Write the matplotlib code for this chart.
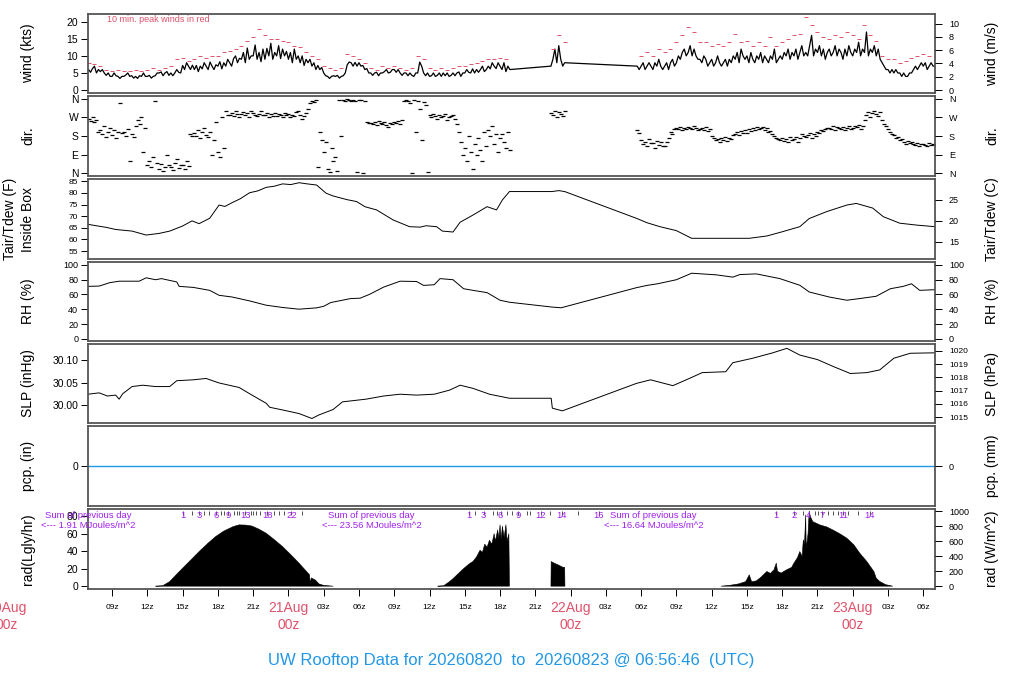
import numpy as np
import matplotlib
matplotlib.use("Agg")
import matplotlib.pyplot as plt
from matplotlib.transforms import blended_transform_factory as blend

plt.rcParams['font.family'] = ['Liberation Sans', 'DejaVu Sans']

# ---------------- data (time = hours since 20 Aug 00z) ----------------
STEP10 = 1.0 / 6.0           # 10-minute samples
# wind speed (kts), three observed stretches
wind_a_start = 7.0
wind_a = [
    6, 5.2, 6.3, 7, 5, 6,   5.4, 6, 5, 4.3, 5, 4,   4, 5, 4.2, 4, 3.4, 4,
    4, 4.4, 5, 4, 4.2, 3.5, 4, 3.4, 4.2, 4, 5, 4,   4, 4.3, 3.5, 4, 4.2, 5,
    5, 5.3, 4.2, 5, 5.4, 4.3, 5, 4.2, 5, 6, 5.2, 5,  7.2, 6, 8, 7, 6, 7.3,
    6, 7.2, 5.4, 7, 6.2, 8, 7, 6, 8.2, 7, 6, 7.4,   7, 8.3, 6.2, 8, 7, 9,
    8, 7, 9.2, 10, 8, 9.3,   9, 11, 8, 12.3, 9, 10,   10, 13.2, 9, 11, 8.3, 12,
    9, 12.2, 10, 13.7, 9, 11,   10, 13, 9.2, 12, 10, 11.3,   9, 11, 8, 12, 9, 10,
    8, 10, 7.2, 9, 8, 9,   7, 8, 6, 7.2, 6, 6.6,   5, 4.2, 4, 3.4, 4, 4.2,
    4, 4.3, 3.5, 4, 4.2, 5,   7.4, 8.2, 8, 7, 8.1, 7,   8, 7, 7.2, 6, 6.3, 5,
    5, 4.3, 5, 5.2, 4.2, 5,   5, 5.4, 6, 5, 5.2, 6,   6, 5.2, 6, 5, 4.3, 5,
    5, 4.2, 5, 4.3, 4, 5,   5, 8.2, 7, 5, 4.2, 5,   4, 4.2, 5, 4, 4.3, 5,
    4, 5, 4.2, 5, 4, 4.3,   5, 4.2, 5, 5.3, 4, 5,   5, 6, 5.2, 5, 6.2, 5,
    6, 5.2, 6, 7, 5.4, 6,   7, 6.2, 8, 7, 6.3, 8,   7, 6, 8, 5.4, 7, 6,
]
wind_b_start = 46.33
wind_b = [7, 9, 12, 8, 13, 9, 7, 8]
wind_c_start = 53.67
wind_c = [
    7, 6,
    7, 8, 6, 7, 8, 7,   6, 8, 7, 9, 7, 6,   7, 8, 6, 8, 9, 7,
    8, 10, 9, 11, 12, 10,   11, 13, 10, 12, 10, 9,   9, 8, 10, 9, 7, 8,
    9, 7, 8, 10, 8, 7,   8, 9, 7, 9, 8, 10,   9, 11, 8, 12, 10, 9,
    10, 8, 11, 9, 8, 10,   9, 11, 8, 10, 9, 8,   10, 9, 12, 8, 9, 10,
    9, 11, 10, 12, 9, 11,   10, 12, 9, 11, 13, 10,   11, 10, 13, 16, 10, 12,
    11, 13, 10, 12, 9, 11,   12, 10, 11, 13, 10, 12,   11, 9, 12, 10, 13, 11,
    10, 12, 11, 14, 10, 12,   11, 17, 10, 12, 11, 13,   10, 12, 9, 8, 7, 6,
    6, 5, 6, 5, 6, 5,   5, 4, 5, 4, 4, 5,   5, 6, 7, 6, 7, 8,
    7, 8, 6, 7, 8, 7,
    7,
]
# wind direction (deg), same 10-minute samples
dir_a = [
    265, 255, 270, 250, 260, 200,   210, 190, 230, 175, 200, 220,
    185, 210, 170, 200, 340, 195,   200, 180, 215, 60, 190, 175,
    230, 260, 240, 270, 100, 220,   40, 60, 30, 80, 350, 50,
    20, 45, 10, 30, 90, 40,   30, 15, 50, 70, 25, 40,
    40, 20, 60, 35, 190, 180,   195, 180, 210, 170, 200, 220,
    185, 175, 200, 90, 160, 250,   100, 80, 270, 120, 300, 280,
    280, 290, 275, 300, 285, 270,   285, 295, 280, 290, 270, 300,
    290, 280, 275, 285, 300, 280,   280, 290, 270, 285, 275, 290,
    275, 285, 280, 270, 290, 280,   285, 270, 280, 275, 295, 300,
    280, 265, 275, 290, 310, 340,   350, 345, 355, 30, 200, 160,
    100, 150, 20, 5, 120, 60,   80, 10, 355, 180, 355, 350,
    358, 355, 352, 356, 350, 5,   355, 357, 2, 350, 250, 245,
    245, 240, 250, 235, 255, 245,   240, 250, 235, 225, 245, 240,
    250, 245, 255, 240, 260, 350,   355, 350, 340, 2, 355, 200,
    350, 310, 160, 345, 330, 5,   280, 270, 285, 275, 265, 280,
    270, 275, 285, 260, 270, 275,   280, 265, 240, 200, 150, 90,
    120, 60, 180, 100, 20, 140,   90, 170, 110, 60, 200, 130,
    210, 180, 230, 140, 190, 100,   170, 190, 150, 120, 200, 110,
]
dir_b = [290, 280, 300, 270, 295, 285, 275, 300]
dir_c = [
    210, 195,
    160, 140, 150, 130, 165, 145,   145, 120, 155, 135, 150, 130,
    130, 150, 170, 200, 190, 215,   220, 215, 225, 210, 220, 215,
    225, 220, 215, 230, 220, 210,   215, 220, 210, 225, 205, 215,
    180, 170, 160, 165, 150, 170,   160, 175, 155, 170, 165, 185,
    190, 200, 185, 205, 195, 210,   195, 215, 205, 220, 210, 225,
    215, 220, 225, 210, 220, 200,   205, 190, 180, 170, 165, 160,
    170, 155, 165, 150, 175, 160,   165, 175, 150, 170, 190, 180,
    175, 185, 195, 170, 190, 180,   200, 195, 210, 205, 215, 220,
    220, 215, 230, 210, 225, 220,   215, 225, 210, 220, 230, 215,
    220, 230, 225, 235, 215, 230,   260, 280, 295, 270, 290, 300,
    285, 275, 295, 260, 240, 230,   215, 200, 190, 185, 170, 175,
    160, 165, 150, 140, 155, 145,   150, 140, 135, 145, 130, 140,
    140, 135, 130, 145, 138, 140,
    135,
]
# 10-min peak winds (kts), 30-minute samples
GSTEP = 0.5
gust_a_start = 7.0
gust_a = [8, 7.5, 7, 6, 5.5, 6, 5.5, 5.5, 6, 5.5, 6, 6.5, 6, 6.5, 7, 9, 9.5, 8.5,
          9, 10, 9.5, 10, 10, 11, 11.5, 12, 13, 14.5, 15.5, 18, 16, 15, 15, 14.5,
          14, 13, 12.5, 11, 10, 9, 7, 6.5, 6, 6.5, 10.5, 10, 9, 8, 6.5, 6, 7, 6.5,
          7, 6.5, 6, 6.5, 10, 9, 6.5, 6, 6.5, 6, 6.5, 7, 7, 7.5, 8, 8.5, 9, 9, 9.5, 9]
gust_b_start = 46.5
gust_b = [12, 16, 14]
gust_c_start = 54.0
gust_c = [10, 11, 10, 12, 11, 12, 14, 16, 18.5, 17, 14, 14, 13, 13.5, 13, 14, 16.5,
          14, 14.5, 13, 14, 13, 15.5, 13, 14, 15, 16, 16.5, 21.5, 19, 17, 15.5, 15,
          16, 15.5, 17, 16, 15, 19, 16, 14.5, 10, 9, 9, 8, 8.5, 9.5, 10, 10.5, 10]

# air temperature inside box (F): (hour, value)
tair_obs = [(6.95, 66.5), (8.5, 65.2), (9.3, 64.3), (10.7, 63.6), (11.9, 61.9), (13.0, 62.6),
            (13.9, 63.6), (15.0, 65.8), (15.8, 68.0), (16.4, 66.8), (17.3, 69.1), (18.1, 74.8),
            (18.6, 74.2), (19.2, 75.8), (19.9, 77.5), (20.7, 80.1), (21.4, 80.9), (22.1, 82.4),
            (22.8, 82.9), (23.5, 83.9), (24.2, 83.6), (24.9, 84.4), (25.6, 83.9), (26.4, 83.4),
            (27.2, 79.9), (27.8, 78.7), (29.0, 77.1), (29.8, 76.3), (30.5, 74.1), (31.5, 72.7),
            (32.9, 68.4), (34.3, 65.5), (35.2, 65.3), (35.7, 65.9), (36.6, 65.5), (37.1, 63.6),
            (38.0, 63.2), (38.6, 67.4), (39.7, 70.5), (40.9, 74.1), (41.7, 72.7), (42.2, 77.0),
            (42.8, 80.6), (46.4, 80.6), (47.0, 81.0), (47.5, 80.6), (53.6, 69.1), (54.5, 67.2),
            (55.6, 65.5), (57.0, 63.8), (58.3, 60.5), (61.8, 60.5), (63.2, 60.5), (64.7, 61.5),
            (66.0, 63.3), (67.5, 65.5), (68.3, 69.0), (69.8, 72.0), (71.5, 74.8), (72.3, 75.5),
            (73.7, 73.5), (74.6, 69.8), (76.0, 67.0), (77.4, 66.2), (79.0, 65.5)]
# relative humidity (%)
rh_obs = [(6.95, 71), (7.9, 71.4), (8.8, 76), (9.6, 78), (11.3, 78), (11.9, 82.6), (12.7, 80),
          (13.2, 81.5), (14.5, 77), (14.7, 71), (15.9, 69.6), (17.3, 65.6), (18.1, 58.9),
          (19.2, 56.6), (20.7, 51.3), (22.1, 45.5), (23.5, 42.4), (24.9, 40.1), (26.4, 41.9),
          (27.0, 44), (27.6, 49.1), (29.3, 54.5), (30.1, 55), (30.9, 60.2), (32.1, 70),
          (33.5, 78), (34.9, 77.6), (35.5, 72.3), (36.4, 73.2), (36.9, 81.5), (38.0, 80),
          (38.9, 67.8), (39.7, 65.6), (40.9, 62.5), (42.0, 52.2), (42.8, 49.5), (46.4, 43),
          (47.2, 42), (53.6, 69.2), (54.5, 72.3), (55.4, 74.5), (57.0, 80), (58.3, 88.8),
          (60.4, 86.6), (61.8, 83.5), (62.4, 87), (63.8, 87.9), (65.8, 81.5), (67.5, 72.5),
          (68.3, 63.4), (70.0, 56.6), (71.5, 52.2), (72.6, 54.5), (74.0, 57.6), (75.2, 67.8),
          (76.3, 71), (77.0, 74.5), (77.7, 65.6), (79.0, 66.5)]
# sea-level pressure (inHg)
slp_obs = [(6.95, 30.024), (7.9, 30.027), (8.6, 30.020), (9.3, 30.022), (9.6, 30.013),
           (9.9, 30.025), (10.7, 30.041), (11.6, 30.044), (12.7, 30.041), (13.9, 30.041),
           (14.5, 30.054), (15.9, 30.056), (17.0, 30.059), (18.1, 30.049), (19.8, 30.039),
           (20.9, 30.022), (22.1, 30.004), (22.4, 29.995), (23.5, 29.989), (24.9, 29.981),
           (26.0, 29.970), (26.6, 29.978), (27.8, 29.990), (28.6, 30.007), (30.6, 30.013),
           (32.1, 30.020), (33.5, 30.024), (34.9, 30.022), (36.4, 30.024), (37.7, 30.033),
           (38.6, 30.044), (39.7, 30.037), (41.1, 30.024), (42.8, 30.015), (46.35, 30.015),
           (46.45, 29.993), (47.3, 29.987), (53.6, 30.048), (54.8, 30.056), (56.7, 30.043),
           (58.1, 30.059), (59.2, 30.072), (61.2, 30.074), (61.8, 30.094), (63.5, 30.104),
           (65.2, 30.116), (66.4, 30.126), (67.5, 30.111), (69.0, 30.101), (70.4, 30.085),
           (71.8, 30.070), (73.2, 30.072), (74.3, 30.078), (75.5, 30.104), (76.9, 30.115),
           (79.0, 30.116)]
# precipitation (in)
pcp_obs = [(6.95, 0.0), (79.0, 0.0)]
# solar radiation (W/m^2), one list per observed stretch
rad_day1 = [(12.7, 0), (13.3, 5), (13.9, 61), (14.5, 160), (15.0, 240), (15.7, 350), (16.4, 461),
            (17.1, 565), (17.8, 661), (18.5, 735), (19.3, 795), (19.8, 818), (20.4, 815),
            (20.9, 802), (21.5, 760), (22.1, 707), (22.8, 620), (23.5, 528), (24.2, 420),
            (24.9, 307), (25.4, 220), (25.8, 151), (25.85, 40), (25.95, 110), (26.3, 80),
            (26.6, 30), (27.0, 10), (27.8, 0)]
rad_day2a = [(36.7, 0), (37.2, 5), (37.7, 60), (38.0, 100), (38.4, 160), (38.8, 220), (39.1, 261),
             (39.4, 300), (39.7, 330), (40.0, 390), (40.3, 480), (40.5, 450), (40.7, 560),
             (40.9, 520), (41.1, 613), (41.3, 560), (41.5, 700), (41.6, 600), (41.8, 750),
             (41.9, 640), (42.0, 818), (42.1, 620), (42.2, 800), (42.35, 650), (42.5, 820),
             (42.6, 600), (42.75, 700), (42.8, 0)]
rad_day2b = [(46.33, 0), (46.35, 328), (46.7, 300), (47.0, 280), (47.3, 255), (47.5, 250), (47.52, 0)]
rad_day3 = [(60.8, 0), (61.5, 10), (62.3, 30), (62.9, 61), (63.2, 151), (63.4, 60), (63.8, 70),
            (64.2, 120), (64.7, 196), (65.0, 170), (65.3, 218), (65.5, 307), (65.6, 200),
            (65.9, 174), (66.4, 220), (66.8, 250), (67.0, 307), (67.3, 380), (67.5, 462),
            (67.7, 400), (67.8, 618), (67.9, 560), (68.0, 951), (68.05, 500), (68.2, 700),
            (68.3, 1000), (68.4, 930), (68.6, 862), (69.2, 818), (69.8, 790), (70.3, 751),
            (70.9, 700), (71.5, 640), (72.1, 551), (72.6, 440), (73.2, 329), (73.8, 196),
            (74.0, 107), (74.3, 62), (74.8, 20), (75.4, 0)]
# times at which the daily radiation total passed 1, 2, 3 ... MJ/m^2
mj_day1 = [15.06, 15.83, 16.43, 16.85, 17.28, 17.87, 18.30, 18.55, 18.89, 19.40, 19.66, 19.83,
           20.34, 20.85, 21.02, 21.28, 21.62, 22.21, 22.81, 23.23, 23.66, 24.26, 25.19]
mj_day1_labeled = [1, 3, 6, 9, 13, 18, 22]
mj_day2 = [39.32, 39.83, 40.60, 41.36, 41.70, 42.04, 42.55, 42.98, 43.57, 44.26, 44.51, 45.45,
           46.21, 47.23, 48.60, 50.38]
mj_day2_labeled = [1, 3, 6, 9, 12, 14, 16]
mj_day3 = [65.45, 66.98, 67.74, 68.26, 68.77, 69.02, 69.36, 69.87, 70.30, 70.72, 71.15, 71.57,
           72.43, 73.45]
mj_day3_labeled = [1, 2, 4, 7, 11, 14]
sum_times = [7.0, 31.06, 55.06]
sum_values = ["1.91", "23.56", "16.64"]
day_ticks = [0, 24, 48, 72]
day_names = ["20Aug", "21Aug", "22Aug", "23Aug"]
title = "UW Rooftop Data for 20260820  to  20260823 @ 06:56:46  (UTC)"

# ---------------- figure ----------------
RED = '#DF536B'
BLUE = '#2297E6'
PURPLE = '#A020F0'
W, H = 1024.0, 700.0
X0, X1 = 88, 935
PAN = [(14, 93), (96, 176), (179, 259), (262, 341), (344, 423), (426, 506), (509, 589)]
XLIM = (6.95, 79.0)

fig = plt.figure(figsize=(10.24, 7.0), dpi=100)
axes = []
for top, bot in PAN:
    ax = fig.add_axes([X0 / W, 1 - bot / H, (X1 - X0) / W, (bot - top) / H])
    ax.set_xlim(*XLIM)
    ax.tick_params(axis='x', bottom=False, labelbottom=False)
    ax.tick_params(axis='y', direction='out', length=5, pad=2, labelsize=7.5, width=0.7)
    for s in ax.spines.values():
        s.set_color('#555555')
        s.set_linewidth(1.3)
    axes.append(ax)


def right_axis(ax, lim, ticks, labels=None, size=6.5):
    r = ax.twinx()
    r.set_xlim(*XLIM)
    r.set_ylim(*lim)
    r.set_yticks(ticks)
    if labels is not None:
        r.set_yticklabels(labels)
    r.tick_params(axis='y', direction='out', length=5, pad=5, labelsize=size, width=0.7)
    for s in r.spines.values():
        s.set_visible(False)
    return r


def seg_times(start, vals, step):
    return start + step * np.arange(len(vals))


def ylab(ypix_top, ypix_bot, left, right, left2=None):
    yc = 1 - (ypix_top + ypix_bot) / 2 / H
    if left2 is None:
        fig.text(28 / W, yc, left, rotation=90, ha='center', va='center', fontsize=10)
    else:
        fig.text(10 / W, yc, left, rotation=90, ha='center', va='center', fontsize=10)
        fig.text(28 / W, yc, left2, rotation=90, ha='center', va='center', fontsize=10)
    fig.text(992 / W, yc, right, rotation=90, ha='center', va='center', fontsize=10)


# wind
ax = axes[0]
tw = np.concatenate([seg_times(wind_a_start, wind_a, STEP10), seg_times(wind_b_start, wind_b, STEP10),
                     seg_times(wind_c_start, wind_c, STEP10)])
wv = np.concatenate([wind_a, wind_b, wind_c]).astype(float)
ax.plot(tw, wv, color='k', lw=0.9)
tg = np.concatenate([seg_times(gust_a_start, gust_a, GSTEP), seg_times(gust_b_start, gust_b, GSTEP),
                     seg_times(gust_c_start, gust_c, GSTEP)])
gv = np.concatenate([gust_a, gust_b, gust_c]).astype(float)
ax.plot(tg, gv, ls='none', marker='_', color=RED, ms=3.5, mew=0.7)
WLIM = (-0.86, 22.26)
ax.set_ylim(*WLIM)
ax.set_yticks([0, 5, 10, 15, 20])
ax.text(0.022, 0.93, "10 min. peak winds in red", transform=ax.transAxes, color=RED,
        fontsize=6.5, ha='left', va='center')
right_axis(ax, (WLIM[0] * 0.51444, WLIM[1] * 0.51444), [0, 2, 4, 6, 8, 10])
ylab(*PAN[0], "wind (kts)", "wind (m/s)")

# direction
ax = axes[1]
td = np.concatenate([seg_times(wind_a_start, dir_a, STEP10), seg_times(wind_b_start, dir_b, STEP10),
                     seg_times(wind_c_start, dir_c, STEP10)])
dv = np.concatenate([dir_a, dir_b, dir_c]).astype(float)
ax.plot(td, dv, ls='none', marker='_', color='k', ms=3.5, mew=0.9)
DLIM = (-14.4, 374.4)
ax.set_ylim(*DLIM)
ax.set_yticks([0, 90, 180, 270, 360])
ax.set_yticklabels(['N', 'E', 'S', 'W', 'N'])
right_axis(ax, DLIM, [0, 90, 180, 270, 360], ['N', 'E', 'S', 'W', 'N'])
ylab(*PAN[1], "dir.", "dir.")

# air temperature
ax = axes[2]
tt, tv = zip(*tair_obs)
ax.plot(tt, tv, color='k', lw=0.7)
TLIM = (51.6, 86.0)
ax.set_ylim(*TLIM)
ax.set_yticks([55, 60, 65, 70, 75, 80, 85])
ax.tick_params(axis='y', labelsize=6)
right_axis(ax, ((TLIM[0] - 32) / 1.8, (TLIM[1] - 32) / 1.8), [15, 20, 25])
ylab(*PAN[2], "Tair/Tdew (F)", "Tair/Tdew (C)", left2="Inside Box")

# relative humidity
ax = axes[3]
rt, rv = zip(*rh_obs)
ax.plot(rt, rv, color='k', lw=0.7)
RLIM = (-3, 104)
ax.set_ylim(*RLIM)
ax.set_yticks([0, 20, 40, 60, 80, 100])
ax.tick_params(axis='y', labelsize=6.5)
right_axis(ax, RLIM, [0, 20, 40, 60, 80, 100])
ylab(*PAN[3], "RH (%)", "RH (%)")

# pressure
ax = axes[4]
st, sv = zip(*slp_obs)
ax.plot(st, sv, color='k', lw=0.7)
SLIM = (29.96, 30.1356)
ax.set_ylim(*SLIM)
ax.set_yticks([30.00, 30.05, 30.10])
ax.set_yticklabels(['30.00', '30.05', '30.10'])
right_axis(ax, (SLIM[0] * 33.8639, SLIM[1] * 33.8639), [1015, 1016, 1017, 1018, 1019, 1020], size=6)
ylab(*PAN[4], "SLP (inHg)", "SLP (hPa)")

# precipitation
ax = axes[5]
pt, pv = zip(*pcp_obs)
ax.plot(pt, pv, color=BLUE, lw=1.0)
ax.set_ylim(-1, 1)
ax.set_yticks([0])
right_axis(ax, (-25.4, 25.4), [0])
ylab(*PAN[5], "pcp. (in)", "pcp. (mm)")

# radiation
ax = axes[6]
rad_t, rad_v = [], []
for seg in (rad_day1, rad_day2a, rad_day2b, rad_day3):
    a, b = zip(*seg)
    rad_t += list(a) + [np.nan]
    rad_v += list(b) + [np.nan]
rad_t = np.array(rad_t, dtype=float)
rad_v = np.array(rad_v, dtype=float)
ax.fill_between(rad_t, 0, rad_v, color='k', lw=0.4, edgecolor='k')
RADLIM = (-38, 1030)
ax.set_ylim(*RADLIM)
LG = 11.63  # W/m^2 per Langley/hr
ax.set_yticks([v * LG for v in (0, 20, 40, 60, 80)])
ax.set_yticklabels(['0', '20', '40', '60', '80'])
right_axis(ax, RADLIM, [0, 200, 400, 600, 800, 1000])
ylab(*PAN[6], "rad(Lgly/hr)", "rad (W/m^2)")

btr = blend(ax.transData, ax.transAxes)
for times, shown in ((mj_day1, mj_day1_labeled), (mj_day2, mj_day2_labeled), (mj_day3, mj_day3_labeled)):
    ax.plot(times, [0.955] * len(times), ls='none', marker='|', ms=3, mew=0.6, color='#333333',
            transform=btr, clip_on=False)
    for n in shown:
        ax.text(times[n - 1], 0.925, str(n), transform=btr, color=PURPLE, fontsize=6.8,
                ha='center', va='center', clip_on=False)
for x, v in zip(sum_times, sum_values):
    ax.text(x, 0.925, "Sum of previous day", transform=btr, color=PURPLE, fontsize=6.8,
            ha='center', va='center', clip_on=False)
    ax.text(x, 0.79, "<--- %s MJoules/m^2" % v, transform=btr, color=PURPLE, fontsize=6.8,
            ha='center', va='center', clip_on=False)

xt = np.arange(9, 79, 3)
ax.set_xticks(xt)
ax.set_xticklabels(['' if h % 24 == 0 else '%02dz' % (h % 24) for h in xt])
ax.tick_params(axis='x', bottom=True, labelbottom=True, direction='out', length=5, pad=6,
               labelsize=6, width=0.7)
ftr = blend(ax.transData, fig.transFigure)
for x, name in zip(day_ticks, day_names):
    ax.text(x, 1 - 601 / H, name + "\n00z", transform=ftr, color=RED, fontsize=10,
            ha='center', va='top', clip_on=False, linespacing=1.25)

fig.text(511 / W, 1 - 660 / H, title, color=BLUE, fontsize=12, ha='center', va='center')

fig.savefig("out.png", dpi=100)
